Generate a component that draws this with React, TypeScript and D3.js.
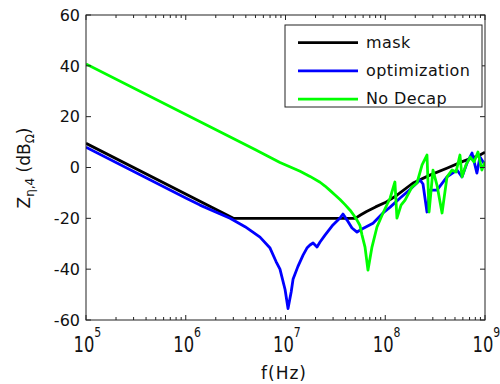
import React from 'react';
import * as d3 from 'd3';

const maskF = [1e5, 3e6, 5e7, 5.7e7, 6.5e7, 8e7, 1e8, 1.3e8, 1.9e8, 2.8e8, 4.2e8, 6e8, 8.9e8, 1e9];
const maskDb = [9.5, -20, -20, -18.6, -17.3, -15.5, -13.8, -11, -6.1, -3, -0.2, 2.4, 4.9, 6];

const optF = [1e5, 1e6, 1.39e6, 2.78e6, 3.93e6, 5.55e6, 7.0e6, 8.04e6, 8.8e6, 9.9e6, 1.06e7, 1.14e7, 1.19e7, 1.33e7, 1.5e7, 1.64e7, 1.76e7, 1.89e7, 2.07e7, 2.22e7, 2.49e7, 2.99e7, 3.52e7, 3.77e7, 4.14e7, 4.64e7, 5.21e7, 5.85e7, 7.54e7, 9.5e7, 1.12e8, 1.41e8, 1.77e8, 2.23e8, 2.39e8, 2.62e8, 2.81e8, 3.3e8, 4.16e8, 5.24e8, 5.88e8, 6.6e8, 7.41e8, 8.3e8, 8.9e8, 1e9];
const optDb = [8, -12, -14.8, -20, -23.3, -27.4, -31.7, -37, -40, -48, -55.5, -49, -44, -39, -34.5, -31.7, -30.5, -29.7, -31.3, -29.3, -26.6, -22.6, -19.9, -18.3, -20.7, -23.8, -25.4, -24.2, -21.9, -17.9, -15.6, -12, -8.7, -4.9, -6.5, -17.5, -8.9, -8.9, -3.7, -1, -3.7, 1.8, 5.7, -2.2, 4.1, 1];

const noDecF = [1e5, 5e6, 8.8e6, 1.4e7, 1.76e7, 2.22e7, 2.49e7, 2.79e7, 3.14e7, 3.52e7, 3.95e7, 4.44e7, 4.8e7, 5.21e7, 5.58e7, 5.85e7, 6.27e7, 6.71e7, 7.36e7, 8.26e7, 9.5e7, 1.12e8, 1.25e8, 1.31e8, 1.44e8, 1.58e8, 1.85e8, 2.08e8, 2.34e8, 2.62e8, 2.75e8, 3.01e8, 3.3e8, 3.71e8, 4.16e8, 4.67e8, 5.12e8, 5.61e8, 5.88e8, 6.45e8, 7.1e8, 7.76e8, 8.5e8, 9.3e8, 1e9];
const noDecDb = [40.7, 7, 2, -1.5, -3.5, -5.8, -7.3, -9, -10.8, -12.6, -14.6, -16.8, -18.6, -20.7, -22.8, -26.6, -31.3, -40.4, -31.3, -23.4, -17.9, -12, -5.7, -19.9, -14.8, -12.8, -7.7, -6.1, 1, 4.9, -17.5, -1, -6.9, -17.9, -3.7, -1, -1.8, 4.9, -3.7, 1, 4.1, 2.2, 6.1, -1, 2.2];

const yTicks = [-60, -40, -20, 0, 20, 40, 60];
const xDecades = [5, 6, 7, 8, 9];
const seriesNames = ['mask', 'optimization', 'No Decap'];
const seriesColors = ['#000000', '#0000ff', '#00ff00'];

const L = 86, R = 485, T = 15, B = 320;

export default function App() {
  const x = d3.scaleLog().domain([1e5, 1e9]).range([L, R]);
  const y = d3.scaleLinear().domain([-60, 60]).range([B, T]);
  const line = d3.line<[number, number]>().x(d => x(d[0])).y(d => y(d[1]));
  const series = [
    maskF.map((f, i) => [f, maskDb[i]] as [number, number]),
    optF.map((f, i) => [f, optDb[i]] as [number, number]),
    noDecF.map((f, i) => [f, noDecDb[i]] as [number, number]),
  ];
  const minor: number[] = [];
  for (let d = 5; d < 9; d++) for (let m = 2; m <= 9; m++) minor.push(m * Math.pow(10, d));
  const font = 'DejaVu Sans';
  return (
    <svg width={500} height={384} style={{ position: 'absolute', left: 0, top: 0, background: '#fff' }}>
      <defs>
        <clipPath id="pc"><rect x={L} y={T} width={R - L} height={B - T} /></clipPath>
      </defs>
      <rect x={0} y={0} width={500} height={384} fill="#fff" />
      <g clipPath="url(#pc)">
        {series.map((s, i) => (
          <path key={i} d={line(s) || ''} fill="none" stroke={seriesColors[i]} strokeWidth={2.8} strokeLinejoin="round" />
        ))}
      </g>
      <rect x={L} y={T} width={R - L} height={B - T} fill="none" stroke="#222" strokeWidth={1} />
      {xDecades.map(d => {
        const px = x(Math.pow(10, d));
        return (
          <g key={d}>
            <line x1={px} x2={px} y1={B} y2={B - 5} stroke="#222" />
            <line x1={px} x2={px} y1={T} y2={T + 5} stroke="#222" />
            <g transform={`translate(${px - 2},352) scale(0.78,1)`}>
              <text textAnchor="middle" fontFamily={font} fontSize={21} fill="#111">10</text>
              <text x={13} y={-15} fontFamily={font} fontSize={14} fill="#111">{d}</text>
            </g>
          </g>
        );
      })}
      {minor.map((f, i) => (
        <g key={i}>
          <line x1={x(f)} x2={x(f)} y1={B} y2={B - 3} stroke="#222" />
          <line x1={x(f)} x2={x(f)} y1={T} y2={T + 3} stroke="#222" />
        </g>
      ))}
      {yTicks.map(v => (
        <g key={v}>
          <line x1={L} x2={L + 5} y1={y(v)} y2={y(v)} stroke="#222" />
          <line x1={R} x2={R - 5} y1={y(v)} y2={y(v)} stroke="#222" />
          <text x={80} y={y(v)} dy="0.36em" textAnchor="end" fontFamily={font} fontSize={16} fill="#111">{v}</text>
        </g>
      ))}
      <text x={284} y={379} textAnchor="middle" fontFamily={font} fontSize={17} letterSpacing={1} fill="#111">f(Hz)</text>
      <text transform="translate(30,168) rotate(-90)" textAnchor="middle" fontFamily={font} fontSize={17} fill="#111">
        Z<tspan fontSize={12} dy={4}>η,4</tspan><tspan dy={-4}> (dB</tspan><tspan fontSize={12} dy={4}>Ω</tspan><tspan dy={-4}>)</tspan>
      </text>
      <rect x={285} y={25} width={197} height={82} fill="#fff" stroke="#222" strokeWidth={1} />
      {seriesNames.map((n, i) => {
        const ly = 42.7 + i * 28.2;
        return (
          <g key={n}>
            <line x1={298} x2={358} y1={ly} y2={ly} stroke={seriesColors[i]} strokeWidth={2.8} />
            <text x={366} y={ly} dy="0.33em" fontFamily={font} fontSize={16} letterSpacing={0.4} fill="#111">{n}</text>
          </g>
        );
      })}
    </svg>
  );
}
